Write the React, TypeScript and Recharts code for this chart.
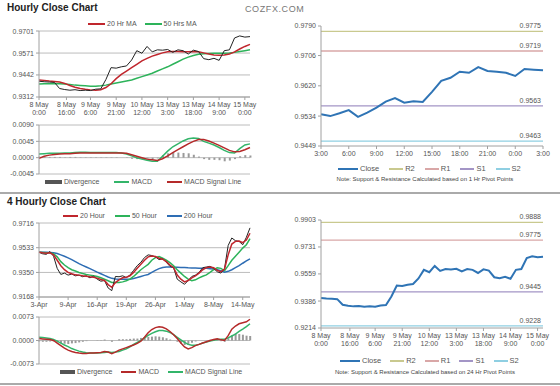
import React from "react"
import { LineChart, ComposedChart, Line, Bar, XAxis, YAxis, CartesianGrid } from "recharts"

const FONT = '"Liberation Sans", Arial, sans-serif'
const AXIS = "#a0a0a0"
const GRID = "#bcbcbc"
const TICK = { fontSize: 7, fill: "#555", fontFamily: FONT }

// ---- hourly data (top-left price, top-left MACD, bottom-right close) ----
const hourlyHours = [0, 3, 6, 9, 12, 15, 18, 21, 24, 27, 30, 33, 36, 39, 42, 45, 48, 51, 54, 57, 60, 63, 66, 69, 72, 75, 78, 81, 84, 87, 90, 93, 96, 99, 102, 105, 108, 111, 114, 117, 120, 123]
const hourlyClose = [0.9405, 0.9402, 0.9400, 0.9398, 0.9362, 0.9356, 0.9352, 0.9355, 0.9350, 0.9352, 0.9350, 0.9358, 0.9360, 0.9415, 0.9485, 0.9482, 0.9490, 0.9495, 0.9530, 0.9585, 0.9570, 0.9610, 0.9578, 0.9590, 0.9588, 0.9592, 0.9575, 0.9590, 0.9585, 0.9565, 0.9588, 0.9580, 0.9538, 0.9532, 0.9540, 0.9528, 0.9585, 0.9590, 0.9660, 0.9672, 0.9665, 0.9668]
const hourlyMa20 = [0.9412, 0.9410, 0.9406, 0.9403, 0.9400, 0.9392, 0.9380, 0.9370, 0.9362, 0.9357, 0.9354, 0.9352, 0.9355, 0.9368, 0.9390, 0.9420, 0.9445, 0.9465, 0.9485, 0.9505, 0.9525, 0.9540, 0.9553, 0.9563, 0.9572, 0.9578, 0.9580, 0.9580, 0.9578, 0.9578, 0.9580, 0.9578, 0.9572, 0.9565, 0.9560, 0.9558, 0.9560, 0.9565, 0.9578, 0.9595, 0.9610, 0.9622]
const hourlyMa50 = [0.9388, 0.9390, 0.9390, 0.9392, 0.9390, 0.9388, 0.9385, 0.9382, 0.9380, 0.9378, 0.9376, 0.9376, 0.9378, 0.9382, 0.9388, 0.9394, 0.9400, 0.9406, 0.9412, 0.9422, 0.9432, 0.9442, 0.9452, 0.9465, 0.9478, 0.9490, 0.9505, 0.9520, 0.9535, 0.9547, 0.9557, 0.9564, 0.9567, 0.9569, 0.9570, 0.9570, 0.9570, 0.9572, 0.9575, 0.9580, 0.9585, 0.9590]
const hourlyMacd = [0.0010, 0.0011, 0.0012, 0.0012, 0.0012, 0.0013, 0.0013, 0.0014, 0.0015, 0.0015, 0.0014, 0.0014, 0.0014, 0.0014, 0.0014, 0.0014, 0.0013, 0.0010, 0.0005, 0.0000, -0.0004, -0.0007, -0.0010, -0.0010, 0.0004, 0.0018, 0.0030, 0.0038, 0.0046, 0.0052, 0.0054, 0.0053, 0.0045, 0.0040, 0.0035, 0.0028, 0.0020, 0.0014, 0.0013, 0.0025, 0.0035, 0.0038]
const hourlySignal = [-0.0002, 0.0004, 0.0007, 0.0009, 0.0010, 0.0011, 0.0011, 0.0012, 0.0013, 0.0013, 0.0013, 0.0013, 0.0013, 0.0013, 0.0013, 0.0013, 0.0013, 0.0012, 0.0008, 0.0004, 0.0000, -0.0004, -0.0006, -0.0008, -0.0003, 0.0005, 0.0014, 0.0022, 0.0030, 0.0038, 0.0045, 0.0050, 0.0050, 0.0046, 0.0040, 0.0034, 0.0027, 0.0020, 0.0016, 0.0017, 0.0022, 0.0028]
const hourlyDivergence = [0.0003, 0.0003, 0.0002, 0.0002, 0.0002, 0.0001, 0.0002, 0.0002, 0.0001, 0.0001, 0.0001, 0.0001, 0.0001, 0.0001, 0.0001, 0.0001, 0.0000, -0.0001, -0.0003, -0.0004, -0.0004, -0.0003, -0.0004, -0.0002, 0.0007, 0.0012, 0.0015, 0.0014, 0.0013, 0.0012, 0.0008, 0.0003, -0.0004, -0.0006, -0.0006, -0.0007, -0.0010, -0.0008, -0.0004, 0.0004, 0.0007, 0.0006]
const hourlyTicks = [0, 16, 30, 45, 60, 75, 90, 105, 120]
const hourlyTickLabels = ["8 May\n0:00", "8 May\n16:00", "9 May\n6:00", "9 May\n21:00", "10 May\n12:00", "13 May\n3:00", "13 May\n18:00", "14 May\n9:00", "15 May\n0:00"]

// ---- last 24 hours (top-right) ----
const lastDayIndex = [0, 1, 2, 3, 4, 5, 6, 7, 8, 9, 10, 11, 12, 13, 14, 15, 16, 17, 18, 19, 20, 21, 22, 23, 24]
const lastDayClose = [0.9539, 0.9534, 0.9542, 0.9551, 0.9532, 0.9544, 0.9558, 0.9575, 0.9585, 0.9572, 0.9576, 0.9574, 0.9603, 0.9634, 0.9643, 0.9660, 0.9657, 0.9673, 0.9662, 0.9660, 0.9657, 0.9648, 0.9668, 0.9666, 0.9664]
const lastDayTicks = [0, 3, 6, 9, 12, 15, 18, 21, 24]
const lastDayTickLabels = ["3:00", "6:00", "9:00", "12:00", "15:00", "18:00", "21:00", "0:00", "3:00"]

// ---- pivot levels ----
const pivotNames = ["R2", "R1", "S1", "S2"]
const pivot1hValues = [0.9775, 0.9719, 0.9563, 0.9463]
const pivot24hValues = [0.9888, 0.9775, 0.9445, 0.9228]
const pivotColors = ["#c9c98f", "#d9a7a7", "#a395c6", "#8fcfe2"]

// ---- 4 hourly data ----
const fourHourIndex = [0, 1, 2, 3, 4, 5, 6, 7, 8, 9, 10, 11, 12, 13, 14, 15, 16, 17, 18, 19, 20, 21, 22, 23, 24, 25, 26, 27, 28, 29, 30, 31, 32, 33, 34, 35, 36, 37, 38, 39, 40, 41, 42, 43, 44, 45, 46, 47, 48, 49, 50, 51, 52, 53, 54, 55, 56, 57, 58]
const fourHourClose = [0.9500, 0.9488, 0.9484, 0.9505, 0.9470, 0.9380, 0.9335, 0.9345, 0.9330, 0.9338, 0.9325, 0.9330, 0.9318, 0.9325, 0.9310, 0.9322, 0.9300, 0.9285, 0.9290, 0.9235, 0.9215, 0.9320, 0.9318, 0.9325, 0.9312, 0.9330, 0.9365, 0.9400, 0.9425, 0.9460, 0.9480, 0.9475, 0.9465, 0.9445, 0.9450, 0.9425, 0.9395, 0.9385, 0.9300, 0.9280, 0.9262, 0.9290, 0.9320, 0.9330, 0.9350, 0.9385, 0.9390, 0.9395, 0.9380, 0.9355, 0.9345, 0.9380, 0.9550, 0.9605, 0.9585, 0.9580, 0.9555, 0.9610, 0.9680]
const fourHourMa20 = [0.9500, 0.9495, 0.9492, 0.9495, 0.9480, 0.9440, 0.9400, 0.9370, 0.9350, 0.9340, 0.9332, 0.9330, 0.9325, 0.9322, 0.9318, 0.9315, 0.9308, 0.9298, 0.9290, 0.9260, 0.9240, 0.9275, 0.9295, 0.9310, 0.9315, 0.9325, 0.9350, 0.9380, 0.9410, 0.9440, 0.9465, 0.9472, 0.9468, 0.9455, 0.9448, 0.9430, 0.9405, 0.9385, 0.9330, 0.9300, 0.9280, 0.9290, 0.9310, 0.9325, 0.9345, 0.9370, 0.9385, 0.9390, 0.9385, 0.9365, 0.9355, 0.9375, 0.9480, 0.9560, 0.9580, 0.9582, 0.9570, 0.9590, 0.9640]
const fourHourMa50 = [0.9500, 0.9498, 0.9495, 0.9495, 0.9488, 0.9465, 0.9430, 0.9405, 0.9385, 0.9370, 0.9360, 0.9350, 0.9342, 0.9335, 0.9330, 0.9325, 0.9320, 0.9310, 0.9300, 0.9288, 0.9276, 0.9275, 0.9276, 0.9280, 0.9288, 0.9300, 0.9320, 0.9345, 0.9370, 0.9390, 0.9410, 0.9440, 0.9460, 0.9467, 0.9455, 0.9440, 0.9423, 0.9400, 0.9370, 0.9345, 0.9320, 0.9300, 0.9288, 0.9295, 0.9310, 0.9322, 0.9332, 0.9350, 0.9370, 0.9385, 0.9380, 0.9362, 0.9400, 0.9440, 0.9470, 0.9500, 0.9530, 0.9555, 0.9600]
const fourHourMa200 = [0.9500, 0.9500, 0.9500, 0.9498, 0.9495, 0.9490, 0.9480, 0.9470, 0.9458, 0.9445, 0.9430, 0.9415, 0.9402, 0.9390, 0.9378, 0.9365, 0.9352, 0.9340, 0.9328, 0.9316, 0.9306, 0.9302, 0.9300, 0.9299, 0.9299, 0.9300, 0.9305, 0.9312, 0.9320, 0.9328, 0.9335, 0.9350, 0.9365, 0.9378, 0.9387, 0.9390, 0.9390, 0.9389, 0.9388, 0.9387, 0.9386, 0.9384, 0.9383, 0.9382, 0.9381, 0.9380, 0.9380, 0.9378, 0.9375, 0.9370, 0.9362, 0.9352, 0.9358, 0.9370, 0.9385, 0.9400, 0.9418, 0.9435, 0.9450]
const fourHourMacd = [0.0006, 0.0005, 0.0004, 0.0003, 0.0000, -0.0008, -0.0016, -0.0024, -0.0030, -0.0034, -0.0037, -0.0039, -0.0040, -0.0040, -0.0039, -0.0039, -0.0038, -0.0037, -0.0034, -0.0036, -0.0041, -0.0036, -0.0030, -0.0026, -0.0022, -0.0018, -0.0014, -0.0009, -0.0002, 0.0010, 0.0024, 0.0034, 0.0040, 0.0043, 0.0041, 0.0036, 0.0028, 0.0018, 0.0006, -0.0008, -0.0020, -0.0026, -0.0022, -0.0016, -0.0012, -0.0008, -0.0004, 0.0000, 0.0003, 0.0005, 0.0002, 0.0000, 0.0015, 0.0035, 0.0045, 0.0052, 0.0055, 0.0058, 0.0066]
const fourHourSignal = [0.0010, 0.0009, 0.0008, 0.0006, 0.0003, -0.0002, -0.0008, -0.0014, -0.0019, -0.0025, -0.0029, -0.0033, -0.0036, -0.0038, -0.0039, -0.0039, -0.0039, -0.0038, -0.0037, -0.0036, -0.0037, -0.0036, -0.0034, -0.0030, -0.0026, -0.0020, -0.0012, -0.0006, 0.0000, 0.0008, 0.0016, 0.0022, 0.0027, 0.0031, 0.0031, 0.0029, 0.0025, 0.0018, 0.0010, 0.0002, -0.0006, -0.0012, -0.0015, -0.0015, -0.0012, -0.0008, -0.0005, -0.0002, 0.0001, 0.0003, 0.0004, 0.0004, 0.0008, 0.0014, 0.0020, 0.0028, 0.0035, 0.0043, 0.0052]
const fourHourDivergence = [-0.0003, -0.0004, -0.0004, -0.0003, -0.0003, -0.0006, -0.0008, -0.0010, -0.0011, -0.0009, -0.0008, -0.0006, -0.0004, -0.0002, 0.0000, 0.0000, 0.0001, 0.0001, 0.0003, 0.0000, -0.0004, 0.0000, 0.0004, 0.0004, 0.0004, 0.0005, 0.0006, 0.0006, 0.0008, 0.0010, 0.0011, 0.0012, 0.0013, 0.0012, 0.0010, 0.0007, 0.0003, 0.0000, -0.0004, -0.0010, -0.0014, -0.0014, -0.0007, -0.0003, 0.0000, 0.0000, 0.0001, 0.0002, 0.0002, 0.0002, -0.0002, -0.0004, 0.0007, 0.0016, 0.0022, 0.0020, 0.0018, 0.0015, 0.0014]
const fourHourTicks = [0, 8, 16, 24, 32, 40, 48, 56]
const fourHourTickLabels = ["3-Apr", "9-Apr", "16-Apr", "19-Apr", "26-Apr", "1-May", "8-May", "14-May"]

const hourlyData = hourlyHours.map((h, k) => ({
  h, close: hourlyClose[k], ma20: hourlyMa20[k], ma50: hourlyMa50[k],
  macd: hourlyMacd[k], signal: hourlySignal[k], div: hourlyDivergence[k],
}))
const lastDayData = lastDayIndex.map((i, k) => {
  const row: any = { i, close: lastDayClose[k] }
  pivotNames.forEach((n, p) => (row[n] = pivot1hValues[p]))
  return row
})
const hourly24Data = hourlyHours.map((h, k) => {
  const row: any = { h, close: hourlyClose[k] }
  pivotNames.forEach((n, p) => (row[n] = pivot24hValues[p]))
  return row
})
const fourHourData = fourHourIndex.map((i, k) => ({
  i, close: fourHourClose[k], ma20: fourHourMa20[k], ma50: fourHourMa50[k], ma200: fourHourMa200[k],
  macd: fourHourMacd[k], signal: fourHourSignal[k], div: fourHourDivergence[k],
}))

const fmt4 = (v: number) => v.toFixed(4)

function TwoLineTick(props: any) {
  const { x, y, payload, ticks, labels } = props
  const idx = ticks.indexOf(payload.value)
  const [a, b] = (labels[idx] ?? "").split("\n")
  return (
    <text x={x} y={y} textAnchor="middle" fontSize={7} fill="#555" fontFamily={FONT}>
      <tspan x={x} dy={5}>{a}</tspan>
      <tspan x={x} dy={8}>{b}</tspan>
    </text>
  )
}

type LegendItem = { label: string; color: string; bar?: boolean; icon?: number }

function LegendRow({ items, left, top, gap, size = 7 }: { items: LegendItem[]; left: number; top: number; gap: number; size?: number }) {
  return (
    <div style={{ position: "absolute", left, top, display: "flex", alignItems: "center", fontSize: size, color: "#555", whiteSpace: "nowrap", lineHeight: "9px" }}>
      {items.map((it) => (
        <div key={it.label} style={{ display: "flex", alignItems: "center", marginRight: gap }}>
          <span style={{ display: "inline-block", width: it.icon ?? 16, height: it.bar ? 4 : 2, background: it.color, marginRight: 2 }} />
          <span>{it.label}</span>
        </div>
      ))}
    </div>
  )
}

function levelLabel(value: number, lastIndex: number) {
  return (p: any) =>
    p.index === lastIndex ? (
      <text x={p.x - 2} y={p.y - 3} textAnchor="end" fontSize={7} fill="#555" fontFamily={FONT}>{fmt4(value)}</text>
    ) : <g />
}

// pivot chart: plotTop / plotHeight are page pixels of the plot area
function PivotChart({ data, xKey, domain, ticks, xTicks, xDomain, values, twoLine, labels, plotTop, plotHeight }: any) {
  const last = data.length - 1
  const axisH = twoLine ? 22 : 14
  return (
    <div style={{ position: "absolute", left: 280, top: plotTop - 10 }}>
      <LineChart width={275} height={10 + plotHeight + axisH} data={data} margin={{ top: 10, right: 12, left: 0, bottom: 0 }}>
        <XAxis
          dataKey={xKey} type="number" domain={xDomain} ticks={xTicks} interval={0}
          stroke={AXIS} tickSize={3} height={axisH}
          tick={twoLine ? (p: any) => <TwoLineTick {...p} ticks={xTicks} labels={labels} /> : TICK}
          tickFormatter={twoLine ? undefined : (v: number) => labels[xTicks.indexOf(v)]}
        />
        <YAxis domain={domain} ticks={ticks} interval={0} width={41} stroke={AXIS} tickSize={3} tick={TICK} tickFormatter={fmt4} />
        {pivotNames.map((n, p) => (
          <Line key={n} dataKey={n} stroke={pivotColors[p]} strokeWidth={1.3} dot={false} isAnimationActive={false} label={levelLabel(values[p], last)} />
        ))}
        <Line dataKey="close" stroke="#2f74b5" strokeWidth={2} dot={false} isAnimationActive={false} />
      </LineChart>
    </div>
  )
}

const pivotLegend: LegendItem[] = [
  { label: "Close", color: "#2f74b5", icon: 20 },
  ...pivotNames.map((n, p) => ({ label: n, color: pivotColors[p], icon: 14 })),
]

export default function App() {
  return (
    <div style={{ position: "fixed", left: 0, top: 0, width: 560, height: 386, background: "#fff", fontFamily: FONT, overflow: "hidden" }}>
      <div style={{ position: "absolute", left: 7, top: 2, fontSize: 10, fontWeight: "bold", color: "#222" }}>Hourly Close Chart</div>
      <div style={{ position: "absolute", left: 245, top: 4, fontSize: 9, color: "#777", letterSpacing: 0.6 }}>COZFX.COM</div>

      {/* hourly price */}
      <LegendRow left={88} top={19} gap={8} items={[{ label: "20 Hr MA", color: "#c0262d", icon: 17 }, { label: "50 Hrs MA", color: "#2db35a", icon: 17 }]} />
      <div style={{ position: "absolute", left: 0, top: 28 }}>
        <LineChart width={260} height={91} data={hourlyData} margin={{ top: 3, right: 10, left: 0, bottom: 0 }}>
          <CartesianGrid vertical={false} stroke={GRID} />
          <XAxis dataKey="h" type="number" domain={[0, 123]} ticks={hourlyTicks} interval={0} stroke={AXIS} tickSize={3} height={22}
            tick={(p: any) => <TwoLineTick {...p} ticks={hourlyTicks} labels={hourlyTickLabels} />} />
          <YAxis domain={[0.9312, 0.9701]} ticks={[0.9312, 0.9442, 0.9571, 0.9701]} interval={0} width={39} stroke={AXIS} tickSize={3} tick={TICK} tickFormatter={fmt4} />
          <Line dataKey="ma50" stroke="#2db35a" strokeWidth={1.5} dot={false} isAnimationActive={false} />
          <Line dataKey="ma20" stroke="#c0262d" strokeWidth={1.5} dot={false} isAnimationActive={false} />
          <Line dataKey="close" stroke="#222" strokeWidth={1} dot={false} isAnimationActive={false} />
        </LineChart>
      </div>

      {/* hourly MACD */}
      <div style={{ position: "absolute", left: 0, top: 120 }}>
        <ComposedChart width={260} height={59} data={hourlyData} margin={{ top: 5, right: 10, left: 0, bottom: 5 }}>
          <CartesianGrid vertical={false} stroke={GRID} />
          <XAxis dataKey="h" type="number" domain={[0, 123]} hide />
          <YAxis domain={[-0.0045, 0.009]} ticks={[-0.0045, 0, 0.0045, 0.009]} interval={0} width={39} stroke={AXIS} tickSize={3} tick={TICK} tickFormatter={fmt4} />
          <Bar dataKey="div" fill="#9a9a9a" barSize={2} isAnimationActive={false} />
          <Line dataKey="macd" stroke="#33b56a" strokeWidth={1.5} dot={false} isAnimationActive={false} />
          <Line dataKey="signal" stroke="#b52a2a" strokeWidth={1.5} dot={false} isAnimationActive={false} />
        </ComposedChart>
      </div>
      <LegendRow left={45} top={177} gap={15} items={[{ label: "Divergence", color: "#555", bar: true, icon: 17 }, { label: "MACD", color: "#33b56a", icon: 15 }, { label: "MACD Signal Line", color: "#b52a2a", icon: 15 }]} />

      {/* 1 hr pivots */}
      <PivotChart data={lastDayData} xKey="i" xDomain={[0, 24]} xTicks={lastDayTicks} labels={lastDayTickLabels}
        domain={[0.9449, 0.979]} ticks={[0.9449, 0.9534, 0.962, 0.9706, 0.979]} values={pivot1hValues} plotTop={26} plotHeight={120} />
      <LegendRow left={338} top={164} gap={10} size={7.5} items={pivotLegend} />
      <div style={{ position: "absolute", left: 280, width: 290, top: 176, textAlign: "center", fontSize: 6, color: "#444" }}>
        Note: Support &amp; Resistance Calculated based on 1 Hr Pivot Points
      </div>

      <div style={{ position: "absolute", left: 0, top: 192, width: 560, height: 2, background: "#aaa" }} />

      {/* 4 hourly price */}
      <div style={{ position: "absolute", left: 7, top: 196, fontSize: 10, fontWeight: "bold", color: "#222" }}>4 Hourly Close Chart</div>
      <LegendRow left={63} top={211} gap={10} items={[{ label: "20 Hour", color: "#c0262d", icon: 15 }, { label: "50 Hour", color: "#2db35a", icon: 15 }, { label: "200 Hour", color: "#2e6db4", icon: 15 }]} />
      <div style={{ position: "absolute", left: 0, top: 220 }}>
        <LineChart width={260} height={91} data={fourHourData} margin={{ top: 3, right: 10, left: 0, bottom: 0 }}>
          <CartesianGrid vertical={false} stroke={GRID} />
          <XAxis dataKey="i" type="number" domain={[0, 58]} ticks={fourHourTicks} interval={0} stroke={AXIS} tickSize={3} height={14} tick={TICK}
            tickFormatter={(v: number) => fourHourTickLabels[fourHourTicks.indexOf(v)]} />
          <YAxis domain={[0.9168, 0.9716]} ticks={[0.9168, 0.935, 0.9533, 0.9716]} interval={0} width={39} stroke={AXIS} tickSize={3} tick={TICK} tickFormatter={fmt4} />
          <Line dataKey="ma200" stroke="#2e6db4" strokeWidth={1.5} dot={false} isAnimationActive={false} />
          <Line dataKey="ma50" stroke="#2db35a" strokeWidth={1.5} dot={false} isAnimationActive={false} />
          <Line dataKey="close" stroke="#222" strokeWidth={1} dot={false} isAnimationActive={false} />
          <Line dataKey="ma20" stroke="#c0262d" strokeWidth={1.5} dot={false} isAnimationActive={false} />
        </LineChart>
      </div>

      {/* 4 hourly MACD */}
      <div style={{ position: "absolute", left: 0, top: 312 }}>
        <ComposedChart width={260} height={57} data={fourHourData} margin={{ top: 5, right: 10, left: 0, bottom: 5 }}>
          <CartesianGrid vertical={false} stroke={GRID} />
          <XAxis dataKey="i" type="number" domain={[0, 58]} hide />
          <YAxis domain={[-0.0073, 0.0073]} ticks={[-0.0073, 0, 0.0073]} interval={0} width={39} stroke={AXIS} tickSize={3} tick={TICK} tickFormatter={fmt4} />
          <Bar dataKey="div" fill="#9a9a9a" barSize={2} isAnimationActive={false} />
          <Line dataKey="signal" stroke="#33b56a" strokeWidth={1.5} dot={false} isAnimationActive={false} />
          <Line dataKey="macd" stroke="#b52a2a" strokeWidth={1.5} dot={false} isAnimationActive={false} />
        </ComposedChart>
      </div>
      <LegendRow left={60} top={367} gap={9} items={[{ label: "Divergence", color: "#555", bar: true, icon: 15 }, { label: "MACD", color: "#b52a2a", icon: 15 }, { label: "MACD Signal Line", color: "#33b56a", icon: 15 }]} />

      {/* 24 hr pivots */}
      <PivotChart data={hourly24Data} xKey="h" xDomain={[0, 123]} xTicks={hourlyTicks} labels={hourlyTickLabels} twoLine
        domain={[0.9214, 0.9903]} ticks={[0.9214, 0.9386, 0.9559, 0.9731, 0.9903]} values={pivot24hValues} plotTop={220} plotHeight={108} />
      <LegendRow left={340} top={356} gap={9} size={7.5} items={pivotLegend} />
      <div style={{ position: "absolute", left: 280, width: 290, top: 369, textAlign: "center", fontSize: 6, color: "#444" }}>
        Note: Support &amp; Resistance Calculated based on 24 Hr Pivot Points
      </div>

      <div style={{ position: "absolute", left: 0, top: 383, width: 560, height: 2, background: "#aaa" }} />
    </div>
  )
}
